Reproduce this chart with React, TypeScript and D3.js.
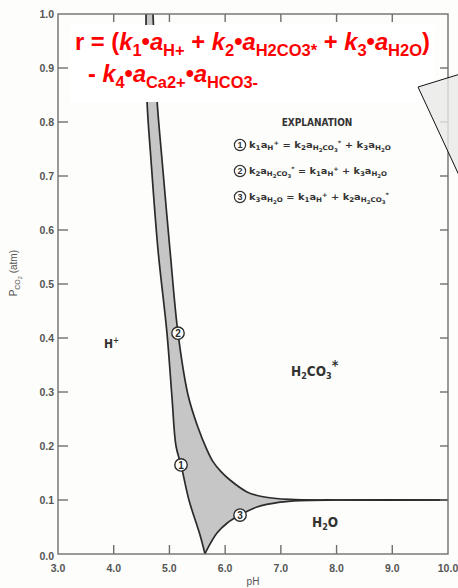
import React from "react";
import * as d3 from "d3";

const W = 458;
const H = 588;
const M = { left: 58, right: 448, top: 14, bottom: 554 };

const PH_TICKS = [3, 4, 5, 6, 7, 8, 9, 10];
const P_TICKS = [0, 0.1, 0.2, 0.3, 0.4, 0.5, 0.6, 0.7, 0.8, 0.9, 1.0];

// Curve (1): k1aH+ = k2aH2CO3* + k3aH2O  (left boundary)
const curve1PH = [4.58, 4.597, 4.669, 4.795, 4.956, 5.046, 5.118, 5.208, 5.35, 5.549, 5.638];
const curve1P = [1.0, 0.841, 0.73, 0.563, 0.409, 0.29, 0.2, 0.165, 0.1, 0.035, 0.0];

// Curve (2): k2aH2CO3* = k1aH+ + k3aH2O  (right / upper boundary)
const curve2PH = [4.705, 4.777, 4.867, 5.01, 5.154, 5.333, 5.5, 5.674, 5.782, 5.93, 6.087, 6.392, 6.68, 7.164, 8.0, 10.0];
const curve2P = [1.0, 0.841, 0.73, 0.563, 0.409, 0.295, 0.238, 0.193, 0.171, 0.152, 0.137, 0.115, 0.106, 0.101, 0.1, 0.1];

// Curve (3): k3aH2O = k1aH+ + k2aH2CO3*  (lower boundary)
const curve3PH = [5.638, 5.71, 5.854, 6.033, 6.267, 6.572, 6.985, 7.34, 8.0, 10.0];
const curve3P = [0.0, 0.015, 0.039, 0.057, 0.072, 0.087, 0.096, 0.099, 0.1, 0.1];

// Circle markers on curves: [label, pH, P]
const markerLabels = ["2", "1", "3"];
const markerPH = [5.154, 5.208, 6.267];
const markerP = [0.409, 0.165, 0.072];

type Seg = [string, string];

const formulaLine1: Seg[] = [
  ["r = (", "n"], ["k", "i"], ["1", "b"], ["•", "n"], ["a", "i"], ["H+", "b"],
  [" + ", "n"], ["k", "i"], ["2", "b"], ["•", "n"], ["a", "i"], ["H2CO3*", "b"],
  [" + ", "n"], ["k", "i"], ["3", "b"], ["•", "n"], ["a", "i"], ["H2O", "b"], [")", "n"],
];
const formulaLine2: Seg[] = [
  ["- ", "n"], ["k", "i"], ["4", "b"], ["•", "n"], ["a", "i"], ["Ca2+", "b"],
  ["•", "n"], ["a", "i"], ["HCO3-", "b"],
];

const explLines: Seg[][] = [
  [["k", "n"], ["1", "b"], ["a", "n"], ["H", "b"], ["+", "p"], [" = k", "n"], ["2", "b"], ["a", "n"], ["H", "b"], ["2", "bb"], ["CO", "b"], ["3", "bb"], ["*", "p"], [" + k", "n"], ["3", "b"], ["a", "n"], ["H", "b"], ["2", "bb"], ["O", "b"]],
  [["k", "n"], ["2", "b"], ["a", "n"], ["H", "b"], ["2", "bb"], ["CO", "b"], ["3", "bb"], ["*", "p"], [" = k", "n"], ["1", "b"], ["a", "n"], ["H", "b"], ["+", "p"], [" + k", "n"], ["3", "b"], ["a", "n"], ["H", "b"], ["2", "bb"], ["O", "b"]],
  [["k", "n"], ["3", "b"], ["a", "n"], ["H", "b"], ["2", "bb"], ["O", "b"], [" = k", "n"], ["1", "b"], ["a", "n"], ["H", "b"], ["+", "p"], [" + k", "n"], ["2", "b"], ["a", "n"], ["H", "b"], ["2", "bb"], ["CO", "b"], ["3", "bb"], ["*", "p"]],
];

const regionLabels: { segs: Seg[]; px: number; p: number; size: number }[] = [
  { segs: [["H", "n"], ["+", "p"]], px: 104, p: 0.382, size: 12 },
  { segs: [["H", "n"], ["2", "b"], ["CO", "n"], ["3", "b"], ["*", "P"]], px: 291, p: 0.33, size: 13.5 },
  { segs: [["H", "n"], ["2", "b"], ["O", "n"]], px: 312, p: 0.05, size: 13.5 },
];

function rich(segs: Seg[], base: number, opts: { sub: number; sup: number; subDy: number; supDy: number; sub2?: number; sub2Dy?: number }) {
  let cur = 0;
  return segs.map(([t, k], i) => {
    let off = 0;
    let size = base;
    let style: string | undefined = undefined;
    if (k === "b") { off = opts.subDy; size = opts.sub; }
    else if (k === "bb") { off = opts.sub2Dy ?? opts.subDy + 2; size = opts.sub2 ?? opts.sub * 0.8; }
    else if (k === "p") { off = -opts.supDy; size = opts.sup; }
    else if (k === "P") { off = -opts.supDy - 1; size = base * 1.05; }
    else if (k === "i") { style = "italic"; }
    const dy = off - cur;
    cur = off;
    return (
      <tspan key={i} dy={dy} fontSize={size} fontStyle={style}>
        {t}
      </tspan>
    );
  });
}

export default function App() {
  const x = d3.scaleLinear().domain([3, 10]).range([M.left, M.right]);
  const y = d3.scaleLinear().domain([0, 1]).range([M.bottom, M.top]);

  const c1 = curve1PH.map((v, i) => [v, curve1P[i]] as [number, number]);
  const c2 = curve2PH.map((v, i) => [v, curve2P[i]] as [number, number]);
  const c3 = curve3PH.map((v, i) => [v, curve3P[i]] as [number, number]);

  const line = d3.line<[number, number]>().x((d) => x(d[0])).y((d) => y(d[1])).curve(d3.curveCatmullRom.alpha(0.5));

  const p1 = line(c1) || "";
  const p2 = line(c2) || "";
  const p3 = line(c3) || "";
  const p3r = (line([...c3].reverse()) || "").replace(/^M/, "L");
  const p1r = (line([...c1].reverse()) || "").replace(/^M/, "L");
  const region = p2 + p3r + p1r + "Z";

  const tickColor = "#6f6f6f";
  const labelColor = "#555";
  const axisFont = "'Liberation Sans', Arial, sans-serif";
  const condFont = "'Liberation Sans Narrow', 'DejaVu Sans Condensed', 'Liberation Sans', sans-serif";
  const ink = "#2b2b2b";

  const innerPH = PH_TICKS.slice(1, -1);
  const innerP = P_TICKS.slice(1, -1);

  return (
    <svg width={W} height={H} style={{ position: "absolute", left: 0, top: 0, background: "#fff" }}>
      <rect x={0} y={0} width={W} height={H} fill="#fdfdfb" />

      {/* shaded region */}
      <path d={region} fill="#c6c6c6" stroke="none" />
      <path d={p1} fill="none" stroke={ink} strokeWidth={1.7} />
      <path d={p2} fill="none" stroke={ink} strokeWidth={1.7} />
      <path d={p3} fill="none" stroke={ink} strokeWidth={1.7} />

      {/* frame */}
      <rect x={M.left} y={M.top} width={M.right - M.left} height={M.bottom - M.top} fill="none" stroke={tickColor} strokeWidth={1.4} />
      {innerPH.map((v) => (
        <g key={"xt" + v}>
          <line x1={x(v)} x2={x(v)} y1={M.bottom} y2={M.bottom - 9} stroke={tickColor} strokeWidth={1.4} />
          <line x1={x(v)} x2={x(v)} y1={M.top} y2={M.top + 8} stroke={tickColor} strokeWidth={1.4} />
        </g>
      ))}
      {innerP.map((v) => (
        <g key={"yt" + v}>
          <line x1={M.left} x2={M.left + 10} y1={y(v)} y2={y(v)} stroke={tickColor} strokeWidth={1.4} />
          <line x1={M.right} x2={M.right - 8} y1={y(v)} y2={y(v)} stroke={tickColor} strokeWidth={1.4} />
        </g>
      ))}

      {/* tick labels */}
      {PH_TICKS.map((v) => (
        <text key={"xl" + v} x={x(v)} y={572} textAnchor="middle" fontFamily={axisFont} fontSize={10.5} fontWeight="bold" fill={labelColor}>
          {v.toFixed(1)}
        </text>
      ))}
      {P_TICKS.map((v) => (
        <text key={"yl" + v} x={54} y={y(v) + (v === 0 ? 6 : 4)} textAnchor="end" fontFamily={axisFont} fontSize={10.5} fontWeight="bold" fill={labelColor}>
          {v.toFixed(1)}
        </text>
      ))}
      <text x={(M.left + M.right) / 2} y={585} textAnchor="middle" fontFamily={axisFont} fontSize={10} fill={labelColor}>
        pH
      </text>
      <text transform={`translate(17,${y(0.52)}) rotate(-90)`} textAnchor="middle" fontFamily={axisFont} fontSize={10} fill={labelColor} style={{ whiteSpace: "pre" }}>
        {rich([["P", "n"], ["CO", "b"], ["2", "bb"], [" (atm)", "n"]], 10, { sub: 7, sup: 6, subDy: 3, supDy: 3, sub2: 5.5, sub2Dy: 5 })}
      </text>

      {/* circle markers */}
      {markerLabels.map((lab, i) => (
        <g key={"m" + lab}>
          <circle cx={x(markerPH[i])} cy={y(markerP[i])} r={6.2} fill="#fff" stroke={ink} strokeWidth={1.4} />
          <text x={x(markerPH[i])} y={y(markerP[i]) + 3.6} textAnchor="middle" fontFamily={axisFont} fontWeight="bold" fontSize={10} fill={ink}>
            {lab}
          </text>
        </g>
      ))}

      {/* region labels */}
      {regionLabels.map((r, i) => (
        <text key={"rl" + i} x={r.px} y={y(r.p)} fontFamily={condFont} fontWeight="bold" fontSize={r.size} fill="#333" style={{ whiteSpace: "pre" }}>
          {rich(r.segs, r.size, { sub: 9, sup: 8, subDy: 3, supDy: 5 })}
        </text>
      ))}

      {/* explanation */}
      <text x={317} y={126} textAnchor="middle" fontFamily={condFont} fontWeight="bold" fontSize={10} fill="#333">
        EXPLANATION
      </text>
      {explLines.map((segs, i) => {
        const cy = [145, 171, 197][i];
        return (
          <g key={"ex" + i}>
            <circle cx={240} cy={cy} r={5.6} fill="#fff" stroke="#333" strokeWidth={1.2} />
            <text x={240} y={cy + 3.4} textAnchor="middle" fontFamily={axisFont} fontWeight="bold" fontSize={9} fill="#333">
              {i + 1}
            </text>
            <text x={249} y={cy + 3} fontFamily={condFont} fontWeight="bold" fontSize={9} fill="#333" style={{ whiteSpace: "pre" }}
              textLength={[142, 138, 140][i]} lengthAdjust="spacingAndGlyphs">
              {rich(segs, 9, { sub: 6.5, sup: 6, subDy: 2, supDy: 3, sub2: 5, sub2Dy: 3.5 })}
            </text>
          </g>
        );
      })}

      {/* formula overlay */}
      <rect x={70} y={25} width={365} height={77} fill="#fff" />
      <text x={75} y={50} fontFamily="'Liberation Sans', Arial, sans-serif" fontWeight="bold" fontSize={23} fill="#ff0000"
        style={{ whiteSpace: "pre" }} textLength={355} lengthAdjust="spacingAndGlyphs">
        {rich(formulaLine1, 23, { sub: 16, sup: 14, subDy: 6, supDy: 8 })}
      </text>
      <text x={88} y={82} fontFamily="'Liberation Sans', Arial, sans-serif" fontWeight="bold" fontSize={23} fill="#ff0000"
        style={{ whiteSpace: "pre" }} textLength={170} lengthAdjust="spacingAndGlyphs">
        {rich(formulaLine2, 23, { sub: 16, sup: 14, subDy: 6, supDy: 8 })}
      </text>

      {/* callout triangle */}
      <path d={`M418,87 L470,71 L470,199 Z`} fill="#e9e9e9" fillOpacity={0.8} stroke="#111" strokeWidth={1} />
    </svg>
  );
}
